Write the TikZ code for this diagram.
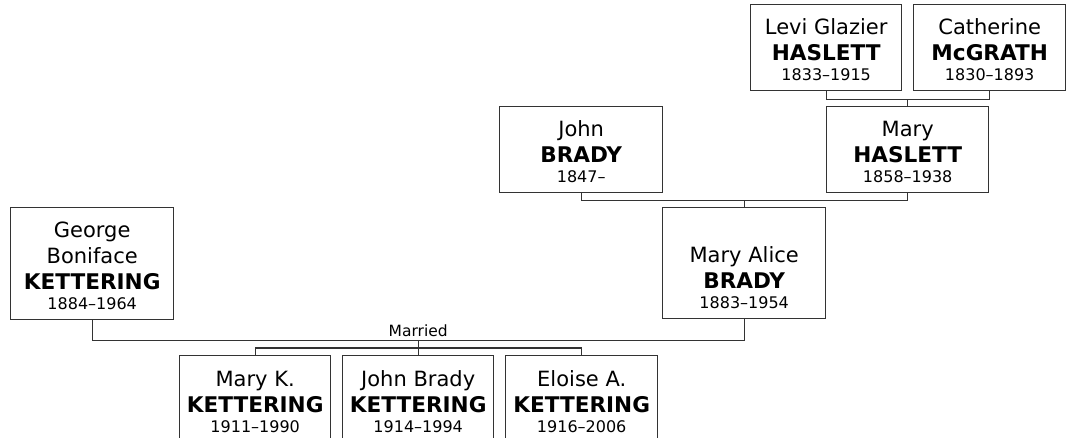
\documentclass[tikz,border=0pt]{standalone}
\usepackage{fontspec}
\setmainfont{DejaVu Sans}
\usetikzlibrary{calc}
\definecolor{lnc}{HTML}{333333}
\tikzset{
  pbox/.style={draw=lnc, line width=1.4pt, inner sep=0pt, anchor=north west, fill=white},
  conn/.style={draw=lnc, line width=1.4pt, line join=miter},
  givenA/.style={font=\fontsize{21}{25}\selectfont, anchor=base, inner sep=0pt, yshift=57pt},
  givenB/.style={font=\fontsize{21}{25}\selectfont, anchor=base, inner sep=0pt, yshift=83pt},
  surn/.style={font=\fontsize{21.6}{25}\selectfont\bfseries, anchor=base, inner sep=0pt, yshift=31pt},
  dates/.style={font=\fontsize{16}{19}\selectfont, anchor=base, inner sep=0pt, yshift=11pt},
  lbl/.style={font=\fontsize{15.5}{19}\selectfont, anchor=base, inner sep=0pt, yshift=3.5pt}
}
\begin{document}
\begin{tikzpicture}[x=1pt,y=-1pt]
\useasboundingbox (0,0) rectangle (1066,438);
\clip (0,0) rectangle (1066,438);
% boxes
\node[pbox, minimum width=151pt, minimum height=86pt] (levi) at (750,4) {};
\node[pbox, minimum width=152pt, minimum height=86pt] (cath) at (913,4) {};
\node[pbox, minimum width=162pt, minimum height=86pt] (maryh) at (826,106) {};
\node[pbox, minimum width=163pt, minimum height=86pt] (john) at (499,106) {};
\node[pbox, minimum width=163pt, minimum height=111pt] (marya) at (662,207) {};
\node[pbox, minimum width=163pt, minimum height=112pt] (george) at (10,207) {};
\node[pbox, minimum width=151pt, minimum height=87pt] (kid1) at (179,355) {};
\node[pbox, minimum width=151pt, minimum height=87pt] (kid2) at (342,355) {};
\node[pbox, minimum width=152pt, minimum height=87pt] (kid3) at (505,355) {};
% texts
\node[givenA] (levi-g) at (levi.south) {Levi Glazier};
\node[surn] (levi-s) at (levi.south) {HASLETT};
\node[dates] (levi-d) at (levi.south) {1833–1915};
\node[givenA] (cath-g) at (cath.south) {Catherine};
\node[surn] (cath-s) at (cath.south) {McGRATH};
\node[dates] (cath-d) at (cath.south) {1830–1893};
\node[givenA] (maryh-g) at (maryh.south) {Mary};
\node[surn] (maryh-s) at (maryh.south) {HASLETT};
\node[dates] (maryh-d) at (maryh.south) {1858–1938};
\node[givenA] (john-g) at (john.south) {John};
\node[surn] (john-s) at (john.south) {BRADY};
\node[dates] (john-d) at (john.south) {1847–};
\node[givenA] (marya-g) at (marya.south) {Mary Alice};
\node[surn] (marya-s) at (marya.south) {BRADY};
\node[dates] (marya-d) at (marya.south) {1883–1954};
\node[givenB] (george-g) at (george.south) {George};
\node[givenA] (george-g2) at (george.south) {Boniface};
\node[surn] (george-s) at (george.south) {KETTERING};
\node[dates] (george-d) at (george.south) {1884–1964};
\node[givenA] (kid1-g) at (kid1.south) {Mary K.};
\node[surn] (kid1-s) at (kid1.south) {KETTERING};
\node[dates] (kid1-d) at (kid1.south) {1911–1990};
\node[givenA] (kid2-g) at (kid2.south) {John Brady};
\node[surn] (kid2-s) at (kid2.south) {KETTERING};
\node[dates] (kid2-d) at (kid2.south) {1914–1994};
\node[givenA] (kid3-g) at (kid3.south) {Eloise A.};
\node[surn] (kid3-s) at (kid3.south) {KETTERING};
\node[dates] (kid3-d) at (kid3.south) {1916–2006};
% connectors
\coordinate (hc) at ($(levi.south)+(0,8)$);
\draw[conn] (levi.south) -- (hc) -| (cath.south);
\draw[conn] (maryh.north) -- (maryh.north |- hc);
\coordinate (bc) at ($(john.south)+(0,7)$);
\draw[conn] (john.south) -- (bc) -| (maryh.south);
\draw[conn] (marya.north) -- (marya.north |- bc);
\coordinate (mc) at ($(george.south)+(0,20)$);
\draw[conn] (george.south) -- (mc) -| (marya.south);
\node[lbl] (married) at ($(mc)!0.5!(mc -| marya.south)$) {Married};
\coordinate (kc) at ($(kid1.north)+(0,-7)$);
\draw[conn] (kid1.north) -- (kc) -| (kid3.north);
\draw[conn] (kid2.north) -- (kid2.north |- mc);
\end{tikzpicture}
\end{document}
